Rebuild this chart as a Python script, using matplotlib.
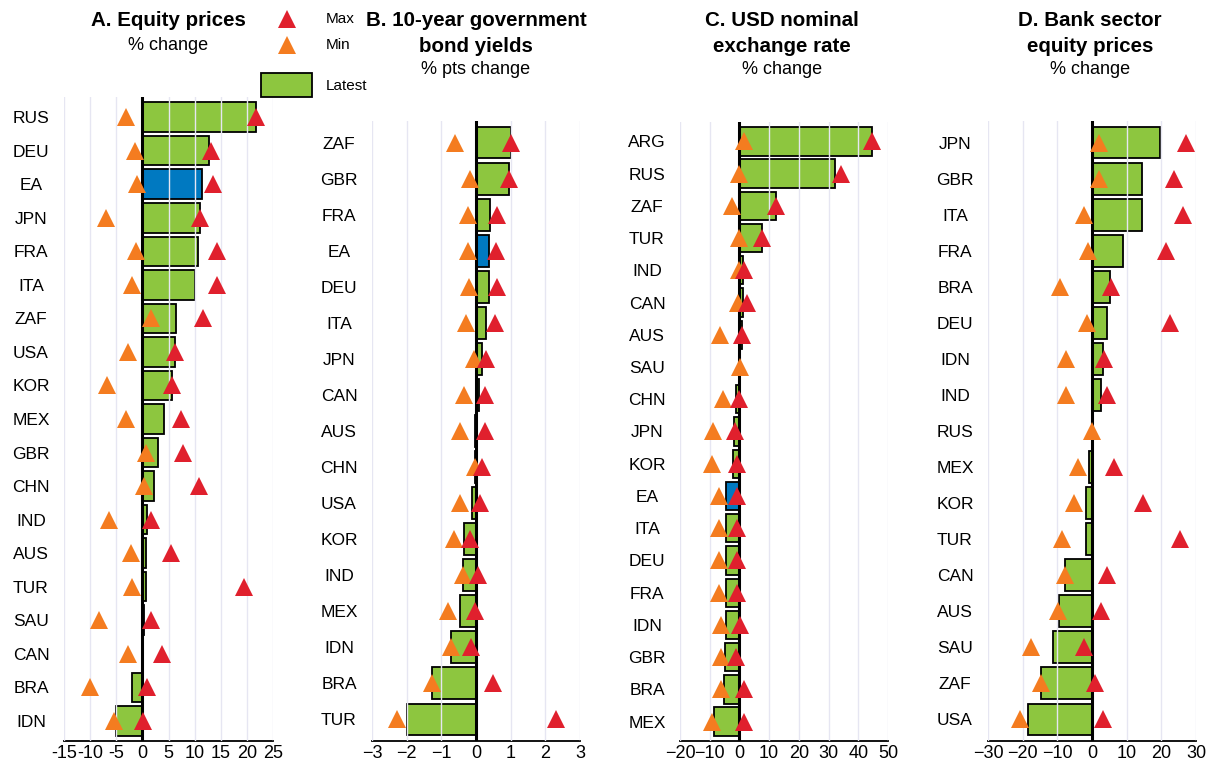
import matplotlib.pyplot as plt
import numpy as np
from matplotlib.patches import Rectangle
from matplotlib.lines import Line2D
from matplotlib.ticker import FuncFormatter

plt.rcParams['font.family'] = ['Liberation Sans', 'DejaVu Sans']

GREEN = '#8dc63f'
BLUE = '#0079c1'
RED = '#e0202d'
ORANGE = '#f47c20'
GRID = '#e6e6f2'

# A. Equity prices
a_cats = ['RUS', 'DEU', 'EA', 'JPN', 'FRA', 'ITA', 'ZAF', 'USA', 'KOR', 'MEX',
          'GBR', 'CHN', 'IND', 'AUS', 'TUR', 'SAU', 'CAN', 'BRA', 'IDN']
a_latest = [21.8, 12.8, 11.5, 11.0, 10.7, 10.0, 6.5, 6.2, 5.7, 4.2,
            3.0, 2.3, 0.9, 0.7, 0.6, 0.4, 0.05, -2.0, -5.1]
a_max = [21.7, 13.2, 13.5, 11.0, 14.3, 14.2, 11.6, 6.2, 5.6, 7.4,
         7.7, 10.8, 1.7, 5.4, 19.4, 1.6, 3.7, 0.8, 0.1]
a_min = [-3.1, -1.5, -1.1, -6.9, -1.3, -1.9, 1.6, -2.7, -6.7, -3.1,
         0.6, 0.3, -6.3, -2.2, -2.0, -8.3, -2.8, -10.1, -5.4]

# B. 10-year government bond yields
b_cats = ['ZAF', 'GBR', 'FRA', 'EA', 'DEU', 'ITA', 'JPN', 'CAN', 'AUS', 'CHN',
          'USA', 'KOR', 'IND', 'MEX', 'IDN', 'BRA', 'TUR']
b_latest = [1.01, 0.95, 0.41, 0.38, 0.38, 0.30, 0.18, 0.10, -0.03, -0.03,
            -0.11, -0.35, -0.37, -0.45, -0.71, -1.27, -2.0]
b_max = [1.0, 0.94, 0.61, 0.57, 0.60, 0.54, 0.29, 0.26, 0.26, 0.17,
         0.11, -0.16, 0.06, -0.02, -0.14, 0.49, 2.31]
b_min = [-0.6, -0.17, -0.24, -0.24, -0.19, -0.30, -0.05, -0.34, -0.45, -0.03,
         -0.46, -0.64, -0.38, -0.80, -0.72, -1.28, -2.27]

# C. USD nominal exchange rate
c_cats = ['ARG', 'RUS', 'ZAF', 'TUR', 'IND', 'CAN', 'AUS', 'SAU', 'CHN', 'JPN',
          'KOR', 'EA', 'ITA', 'DEU', 'FRA', 'IDN', 'GBR', 'BRA', 'MEX']
c_latest = [44.7, 32.0, 12.4, 7.7, 1.3, 1.1, 0.7, 0.0, -1.3, -1.9,
            -2.2, -4.6, -4.6, -4.6, -4.6, -4.6, -4.9, -5.3, -8.6]
c_max = [44.7, 34.2, 12.3, 7.7, 1.5, 2.5, 0.7, np.nan, 0.0, -1.5,
         -0.9, -0.9, -0.9, -0.9, -0.9, 0.3, -1.3, 1.5, 1.6]
c_min = [1.6, -0.2, -2.6, 0.0, -0.2, -0.6, -6.6, 0.1, -5.6, -8.9,
         -9.1, -7.0, -7.0, -7.0, -7.0, -6.1, -6.3, -6.2, -9.2]

# D. Bank sector equity prices
d_cats = ['JPN', 'GBR', 'ITA', 'FRA', 'BRA', 'DEU', 'IDN', 'IND', 'RUS', 'MEX',
          'KOR', 'TUR', 'CAN', 'AUS', 'SAU', 'ZAF', 'USA']
d_latest = [19.6, 14.3, 14.3, 8.8, 5.1, 4.3, 3.3, 2.5, 0.0, -1.0,
            -1.7, -1.7, -7.8, -9.5, -11.2, -14.8, -18.6]
d_max = [27.1, 23.6, 26.3, 21.4, 5.5, 22.5, 3.4, 4.2, np.nan, 6.3,
         14.8, 25.3, 4.4, 2.7, -2.3, 1.0, 3.2]
d_min = [2.0, 2.0, -2.3, -1.2, -9.3, -1.3, -7.5, -7.4, 0.0, -4.0,
         -5.2, -8.7, -7.7, -9.8, -17.7, -14.8, -20.9]

W, H = 1213, 765
fig = plt.figure(figsize=(W / 100, H / 100), dpi=100)


def px_axes(left, right, top, bottom):
    return fig.add_axes([left / W, 1 - bottom / H, (right - left) / W, (bottom - top) / H])


def panel(ax, cats, latest, vmax, vmin, ticks):
    n = len(cats)
    y = np.arange(n)
    colors = [BLUE if c == 'EA' else GREEN for c in cats]
    ax.barh(y, latest, height=0.88, color=colors, edgecolor='black', linewidth=1.3, zorder=2)
    for t in ticks:
        ax.axvline(t, color=GRID, lw=1, zorder=3)
    ax.axvline(0, color='black', lw=2.2, zorder=4)
    ax.plot(vmin, y, '^', color=ORANGE, ms=12.5, mew=0, ls='none', zorder=5)
    ax.plot(vmax, y, '^', color=RED, ms=12.5, mew=0, ls='none', zorder=6)
    ax.set_ylim(n - 0.4, -0.6)
    ax.set_xlim(ticks[0], ticks[-1])
    for s in ['top', 'right', 'left']:
        ax.spines[s].set_visible(False)
    ax.spines['bottom'].set_linewidth(1.3)
    ax.set_yticks(y, cats)
    ax.tick_params(axis='y', length=0, pad=23.8, labelsize=12.5)
    for lbl in ax.get_yticklabels():
        lbl.set_horizontalalignment('center')
    ax.set_xticks(ticks)
    ax.tick_params(axis='x', length=0, pad=3, labelsize=13)


axA = px_axes(64, 273, 97, 741)
axB = px_axes(372, 580, 121, 741)
axC = px_axes(680, 888, 122, 741)
axD = px_axes(988, 1196, 121, 741)

panel(axA, a_cats, a_latest, a_max, a_min, list(range(-15, 26, 5)))
panel(axB, b_cats, b_latest, b_max, b_min, list(range(-3, 4, 1)))
panel(axC, c_cats, c_latest, c_max, c_min, list(range(-20, 51, 10)))
panel(axD, d_cats, d_latest, d_max, d_min, list(range(-30, 31, 10)))

# panel A uses plain hyphens in its tick labels
axA.xaxis.set_major_formatter(FuncFormatter(lambda v, p: '%d' % v))


def ftext(x, y, s, **kw):
    fig.text(x / W, 1 - y / H, s, ha='center', va='center', **kw)


ftext(168.5, 21, 'A. Equity prices', fontsize=14.8, fontweight='bold')
ftext(168.5, 45, '% change', fontsize=13)
ftext(476, 21, 'B. 10-year government', fontsize=14.8, fontweight='bold')
ftext(476, 47, 'bond yields', fontsize=14.8, fontweight='bold')
ftext(476, 70, '% pts change', fontsize=13)
ftext(782, 21, 'C. USD nominal', fontsize=14.8, fontweight='bold')
ftext(782, 47, 'exchange rate', fontsize=14.8, fontweight='bold')
ftext(782, 70, '% change', fontsize=13)
ftext(1090, 21, 'D. Bank sector', fontsize=14.8, fontweight='bold')
ftext(1090, 47, 'equity prices', fontsize=14.8, fontweight='bold')
ftext(1090, 70, '% change', fontsize=13)

# legend
fig.add_artist(Line2D([287 / W], [1 - 19 / H], marker='^', color=RED, ms=12.5, mew=0, ls='none'))
fig.add_artist(Line2D([287 / W], [1 - 45 / H], marker='^', color=ORANGE, ms=12.5, mew=0, ls='none'))
fig.add_artist(Rectangle((261 / W, 1 - 97 / H), 51 / W, 24 / H, facecolor=GREEN,
                         edgecolor='black', linewidth=1.3, transform=fig.transFigure))
fig.text(326 / W, 1 - 19 / H, 'Max', ha='left', va='center', fontsize=11)
fig.text(326 / W, 1 - 45 / H, 'Min', ha='left', va='center', fontsize=11)
fig.text(326 / W, 1 - 86 / H, 'Latest', ha='left', va='center', fontsize=11)

fig.savefig('out.png', dpi=100)
